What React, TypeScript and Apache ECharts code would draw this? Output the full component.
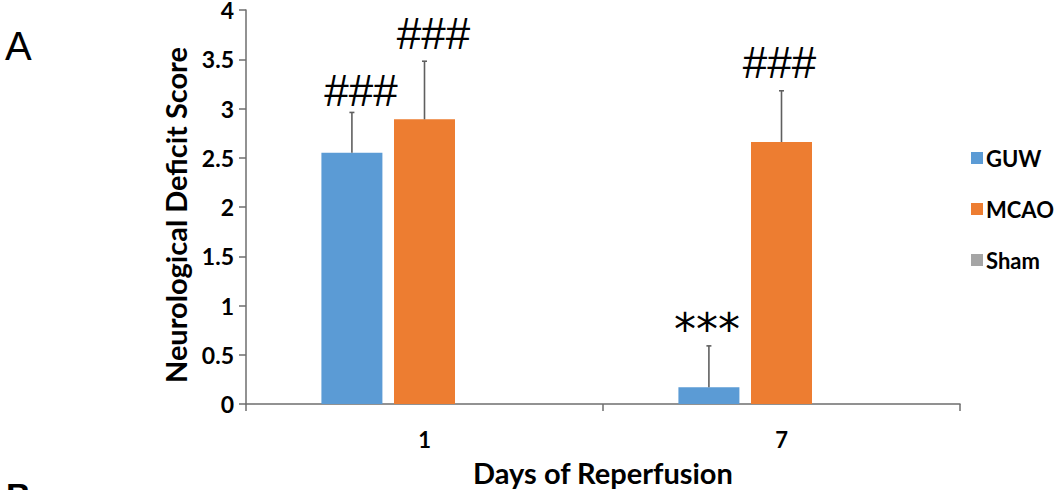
import React, { useEffect, useRef } from "react";
import * as echarts from "echarts";

const categories = ["1", "7"];
const seriesNames = ["GUW", "MCAO", "Sham"];
const guwValues = [2.55, 0.17];
const mcaoValues = [2.89, 2.66];
const shamValues = [0, 0];
const guwErrors = [0.41, 0.42];
const mcaoErrors = [0.59, 0.52];
const guwMarks = ["###", "***"];
const mcaoMarks = ["###", "###"];
const yTicks = [0, 0.5, 1, 1.5, 2, 2.5, 3, 3.5, 4];

const colors = ["#5B9BD5", "#ED7D31", "#A5A5A5"];
const BAR_W = 61;
const BAR_GAP = 0.19;
const MARK_LIFT = [0, 6, 0];
const MARK_SHIFT = [9, -2];

function errorSeries(values: number[], errs: number[], marks: string[], idx: number) {
  const offset = (idx - 1) * BAR_W * (1 + BAR_GAP);
  return {
    type: "custom",
    name: seriesNames[idx] + "-err",
    z: 5,
    silent: true,
    data: values.map((v, i) => [i, v, errs[i]]),
    renderItem: (params: any, api: any) => {
      const i = api.value(0);
      const v = api.value(1);
      const e = api.value(2);
      const mark = marks[params.dataIndex];
      const base = api.coord([i, v]);
      const top = api.coord([i, v + e]);
      const x = base[0] + offset;
      const isStar = mark === "***";
      return {
        type: "group",
        children: [
          {
            type: "line",
            shape: { x1: x, y1: base[1], x2: x, y2: top[1] },
            style: { stroke: "#5f5f5f", lineWidth: 1.6 },
          },
          {
            type: "line",
            shape: { x1: x - 2.5, y1: top[1], x2: x + 2.5, y2: top[1] },
            style: { stroke: "#5f5f5f", lineWidth: 1.6 },
          },
          {
            type: "text",
            x: x + (isStar ? -2 : MARK_SHIFT[params.dataIndex]),
            y: top[1] - (isStar ? -6 : MARK_LIFT[idx]),
            style: {
              text: mark,
              fill: "#000",
              font: isStar ? "44px 'DejaVu Sans'" : "44px 'Liberation Sans'",
              textAlign: "center",
              textVerticalAlign: "bottom",
            },
          },
        ],
      };
    },
  };
}

export default function App() {
  const ref = useRef<HTMLDivElement>(null);
  useEffect(() => {
    if (!ref.current) return;
    const chart = echarts.init(ref.current, null, { renderer: "svg" });
    const axisColor = "#6e6e6e";
    chart.setOption({
      animation: false,
      backgroundColor: "#fff",
      color: colors,
      textStyle: { fontFamily: "Lato" },
      grid: { left: 246, right: 102, top: 10, bottom: 86, containLabel: false, outerBoundsMode: "none" },
      legend: {
        data: seriesNames,
        orient: "vertical",
        left: 966,
        top: 142,
        itemWidth: 12,
        itemHeight: 12,
        itemGap: 29,
        icon: "rect",
        selectedMode: false,
        textStyle: { fontFamily: "Lato", fontWeight: "bold", fontSize: 22, color: "#000", padding: [0, 0, 0, -2] },
      },
      xAxis: {
        type: "category",
        data: categories,
        name: "Days of Reperfusion",
        nameLocation: "middle",
        nameGap: 54,
        nameTextStyle: { fontFamily: "Lato", fontWeight: "bold", fontSize: 29, color: "#000" },
        axisLine: { lineStyle: { color: axisColor, width: 1.5 } },
        axisTick: { show: true, length: 7, lineStyle: { color: axisColor, width: 1.5 } },
        axisLabel: { margin: 24, fontFamily: "Lato", fontWeight: "bold", fontSize: 22, color: "#000" },
      },
      yAxis: {
        type: "value",
        min: 0,
        max: 4,
        interval: 0.5,
        name: "Neurological Deficit Score",
        nameLocation: "middle",
        nameGap: 56,
        nameTextStyle: { fontFamily: "Lato", fontWeight: "bold", fontSize: 29, color: "#000", padding: [0, 16, 0, 0] },
        axisLine: { show: true, lineStyle: { color: axisColor, width: 1.5 } },
        axisTick: { show: true, length: 7, lineStyle: { color: axisColor, width: 1.5 } },
        splitLine: { show: false },
        axisLabel: {
          margin: 12,
          fontFamily: "Lato",
          fontWeight: "bold",
          fontSize: 23,
          color: "#000",
          formatter: (v: number) => (yTicks.includes(v) ? String(v) : ""),
        },
      },
      series: [
        { type: "bar", name: seriesNames[0], data: guwValues, barWidth: BAR_W, barGap: BAR_GAP * 100 + "%" },
        { type: "bar", name: seriesNames[1], data: mcaoValues, barWidth: BAR_W, barGap: BAR_GAP * 100 + "%" },
        { type: "bar", name: seriesNames[2], data: shamValues, barWidth: BAR_W, barGap: BAR_GAP * 100 + "%" },
        errorSeries(guwValues, guwErrors, guwMarks, 0),
        errorSeries(mcaoValues, mcaoErrors, mcaoMarks, 1),
      ],
      graphic: [
        {
          type: "text",
          left: 5,
          top: 26,
          style: { text: "A", font: "40px 'Liberation Sans'", fill: "#000" },
        },
        {
          type: "text",
          left: 6,
          top: 478,
          style: { text: "B", font: "bold 34px 'Liberation Sans'", fill: "#000" },
        },
      ],
    });
    return () => chart.dispose();
  }, []);
  return (
    <div
      ref={ref}
      style={{ position: "fixed", left: 0, top: 0, width: 1062, height: 490, background: "#fff" }}
    />
  );
}
